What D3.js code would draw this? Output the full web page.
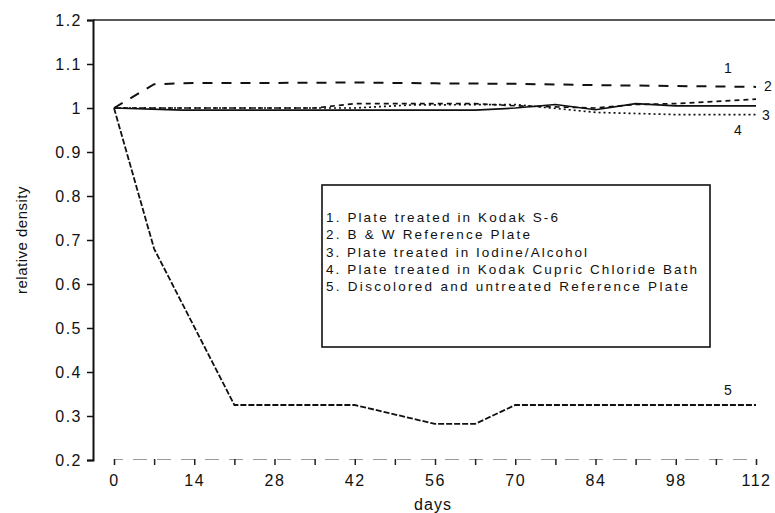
<!DOCTYPE html>
<html>
<head>
<meta charset="utf-8">
<script src="https://cdn.jsdelivr.net/npm/d3@7"></script>
<style>
  html, body { margin: 0; padding: 0; background: #fff; }
  svg text { font-family: "Liberation Sans", Arial, sans-serif; fill: #111; }
</style>
</head>
<body>
<svg id="chart" width="775" height="513"></svg>
<script>
// ---- data ----
const xTicks = [0, 14, 28, 42, 56, 70, 84, 98, 112];
const yTicks = [0.2, 0.3, 0.4, 0.5, 0.6, 0.7, 0.8, 0.9, 1.0, 1.1, 1.2];
const yTickLabels = ["0.2", "0.3", "0.4", "0.5", "0.6", "0.7", "0.8", "0.9", "1", "1.1", "1.2"];

const s1Days = [0, 35, 42, 56, 63, 70, 84, 91, 98, 105, 112];
const s1Vals = [1.0, 1.0, 1.01, 1.01, 1.01, 1.005, 1.0, 1.008, 1.01, 1.015, 1.02];

const s2Days = [0, 7, 14, 28, 42, 56, 70, 84, 98, 112];
const s2Vals = [1.0, 1.054, 1.057, 1.057, 1.058, 1.056, 1.055, 1.052, 1.05, 1.048];

const s3Days = [0, 12, 28, 42, 63, 70, 77, 84, 91, 98, 112];
const s3Vals = [1.0, 0.995, 0.995, 0.995, 0.995, 1.0, 1.008, 0.996, 1.01, 1.005, 1.005];

const s4Days = [0, 42, 52, 70, 84, 98, 112];
const s4Vals = [1.0, 1.0, 1.007, 1.008, 0.99, 0.985, 0.985];

const s5Days = [0, 7, 21, 42, 56, 63, 70, 112];
const s5Vals = [1.0, 0.68, 0.325, 0.325, 0.282, 0.282, 0.325, 0.325];

const legendLabels = [
  "1. Plate treated in Kodak S-6",
  "2. B & W Reference Plate",
  "3. Plate treated in Iodine/Alcohol",
  "4. Plate treated in Kodak Cupric Chloride Bath",
  "5. Discolored and untreated Reference Plate"
];
const endLabels = ["1", "2", "3", "4", "5"];

// ---- layout ----
const svg = d3.select("#chart");
const x = d3.scaleLinear().domain([0, 112]).range([114, 756]);
const y = d3.scaleLinear().domain([0.2, 1.2]).range([460, 20]);

const series = [
  { days: s1Days, vals: s1Vals, dash: "5,4", w: 1.7 },
  { days: s2Days, vals: s2Vals, dash: "10,9", w: 2 },
  { days: s3Days, vals: s3Vals, dash: null, w: 1.7 },
  { days: s4Days, vals: s4Vals, dash: "2,3", w: 1.7 },
  { days: s5Days, vals: s5Vals, dash: "6,2", w: 1.8 }
];

// top frame line at 1.2
svg.append("line")
  .attr("x1", 93).attr("x2", 775)
  .attr("y1", y(1.2)).attr("y2", y(1.2))
  .attr("stroke", "#222").attr("stroke-width", 1.6);

// y axis
const yAxis = d3.axisLeft(y).tickValues(yTicks)
  .tickFormat((d, i) => yTickLabels[i]).tickSize(6).tickPadding(5);
const gy = svg.append("g").attr("transform", "translate(93,0)").call(yAxis);
gy.select(".domain").attr("stroke", "#111").attr("stroke-width", 2);
gy.selectAll(".tick line").attr("stroke", "#111").attr("stroke-width", 1.5);
gy.selectAll(".tick text")
  .style("font-size", "16px").style("letter-spacing", "1.5px")
  .attr("fill", "#111");

// x axis
const xAxis = d3.axisBottom(x).tickValues(d3.range(0, 113, 7))
  .tickFormat(d => xTicks.includes(d) ? String(d) : "").tickSize(6).tickPadding(10);
const gx = svg.append("g").attr("transform", "translate(0,459)").call(xAxis);
gx.select(".domain").attr("stroke", "#999").attr("stroke-width", 1.2)
  .attr("stroke-dasharray", "14,10");
gx.selectAll(".tick line").attr("stroke", "#222").attr("stroke-width", 1.5);
gx.selectAll(".tick text")
  .style("font-size", "16px").style("letter-spacing", "1.5px")
  .attr("fill", "#111");

// axis titles
svg.append("text")
  .attr("transform", "translate(27,240) rotate(-90)")
  .attr("text-anchor", "middle")
  .style("font-size", "15px").style("letter-spacing", "0.5px")
  .text("relative density");
svg.append("text")
  .attr("x", 433).attr("y", 510)
  .attr("text-anchor", "middle")
  .style("font-size", "16px").style("letter-spacing", "1px")
  .text("days");

// series lines
const line = d3.line().x(d => x(d[0])).y(d => y(d[1]));
series.forEach(s => {
  const pts = s.days.map((d, i) => [d, s.vals[i]]);
  svg.append("path")
    .datum(pts)
    .attr("d", line)
    .attr("fill", "none")
    .attr("stroke", "#111")
    .attr("stroke-width", s.w)
    .attr("stroke-dasharray", s.dash);
});

// end labels
const endPos = [[728, 73], [768, 91], [766, 120], [738, 135], [728, 395]];
endLabels.forEach((t, i) => {
  svg.append("text")
    .attr("x", endPos[i][0]).attr("y", endPos[i][1])
    .attr("text-anchor", "middle")
    .style("font-size", "14px")
    .text(t);
});

// legend box
svg.append("rect")
  .attr("x", 322).attr("y", 185).attr("width", 388).attr("height", 162)
  .attr("fill", "#fff").attr("stroke", "#111").attr("stroke-width", 1.6);
const legendEnds = [558, 530, 587, 697, 688];
legendLabels.forEach((t, i) => {
  svg.append("text")
    .attr("x", 326).attr("y", 222 + i * 17.3)
    .attr("textLength", legendEnds[i] - 326)
    .attr("lengthAdjust", "spacing")
    .style("font-size", "13.5px")
    .text(t);
});
</script>
</body>
</html>
